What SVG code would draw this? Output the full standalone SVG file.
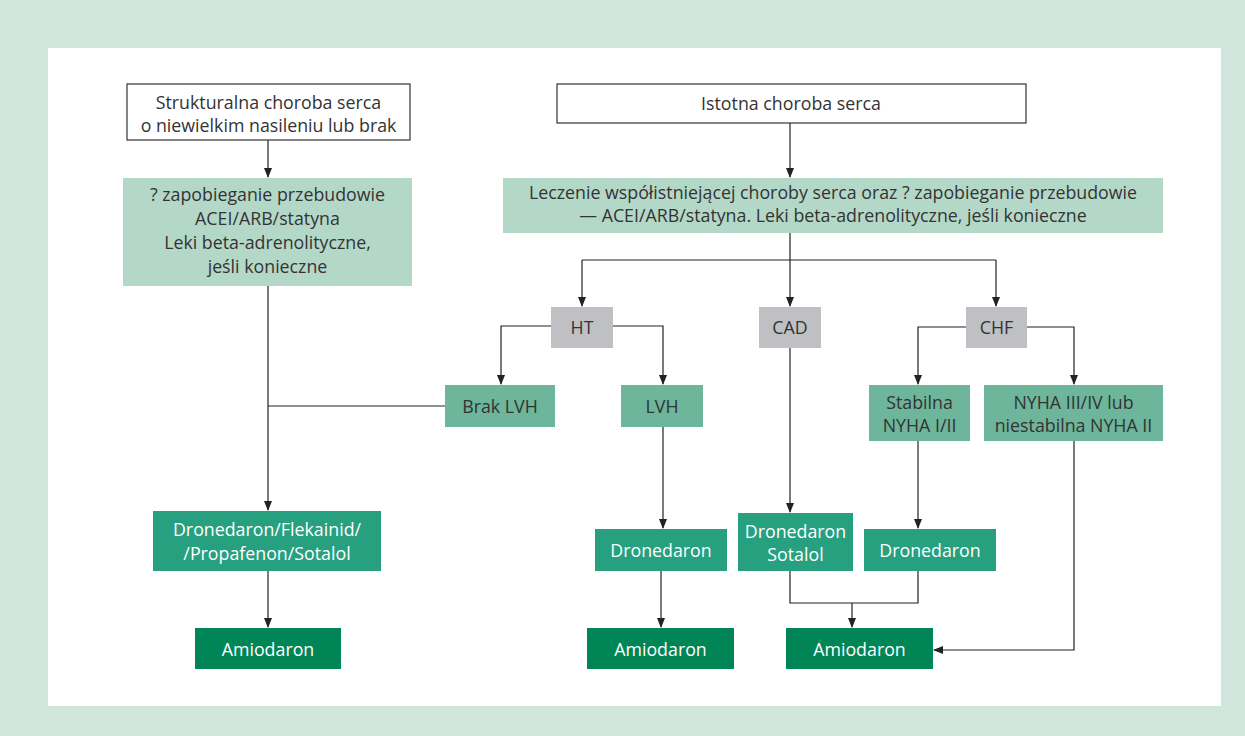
<svg xmlns="http://www.w3.org/2000/svg" width="1245" height="736" viewBox="0 0 1245 736">
<defs>
<marker id="ah" markerWidth="10" markerHeight="10" refX="9" refY="5" orient="auto" markerUnits="userSpaceOnUse">
<path d="M0,1 L10,5 L0,9 Z" fill="#222"/>
</marker>
<style>
text{font-family:"Open Sans","Noto Sans","Liberation Sans",sans-serif;font-size:17.8px;text-anchor:middle;fill:#333}
.w text{fill:#fff}
.wt{fill:#fff;stroke:#333;stroke-width:1.2}
.lg{fill:#b4d8c8}
.gr{fill:#bfc0c4}
.mg{fill:#6db59b}
.tl{fill:#26a07f}
.dk{fill:#008556}
.c path{fill:none;stroke:#222;stroke-width:1.2}
.c path.a{marker-end:url(#ah)}
</style>
</defs>
<rect x="0" y="0" width="1245" height="736" fill="#d0e6dc"/>
<rect x="48" y="48" width="1173" height="658" fill="#fff"/>

<g class="c">
<path class="a" d="M268,140 V177"/>
<path class="a" d="M790,123 V177"/>
<path d="M790,233 V260 M582,260 H996"/>
<path class="a" d="M582,260 V306"/>
<path class="a" d="M790,260 V306"/>
<path class="a" d="M996,260 V306"/>
<path class="a" d="M551,326 H501 V384"/>
<path class="a" d="M613,326 H663 V384"/>
<path class="a" d="M966,327 H918 V384"/>
<path class="a" d="M1027,327 H1074 V384"/>
<path class="a" d="M268,286 V510"/>
<path d="M445,406 H268"/>
<path class="a" d="M663,427 V528"/>
<path class="a" d="M790,348 V512"/>
<path class="a" d="M918,441 V528"/>
<path class="a" d="M268,571 V627"/>
<path class="a" d="M661,571 V627"/>
<path d="M790,571 V603 H918 V571"/>
<path class="a" d="M852,603 V627"/>
<path class="a" d="M1074,441 V650 H934"/>
</g>

<g id="n-strukturalna"><rect class="wt" x="127" y="84" width="283" height="56"/><text x="268.5" y="109">Strukturalna choroba serca</text><text x="268.5" y="132">o niewielkim nasileniu lub brak</text></g>
<g id="n-istotna"><rect class="wt" x="557" y="84" width="469" height="39"/><text x="791" y="110">Istotna choroba serca</text></g>
<g id="n-zapobieganie-l"><rect class="lg" x="123" y="178" width="289" height="108"/><text x="267.5" y="201">? zapobieganie przebudowie</text><text x="267.5" y="225">ACEI/ARB/statyna</text><text x="267.5" y="249">Leki beta-adrenolityczne,</text><text x="267.5" y="273">jeśli konieczne</text></g>
<g id="n-leczenie"><rect class="lg" x="503" y="178" width="660" height="55"/><text x="833" y="199">Leczenie współistniejącej choroby serca oraz ? zapobieganie przebudowie</text><text x="833" y="222">— ACEI/ARB/statyna. Leki beta-adrenolityczne, jeśli konieczne</text></g>
<g id="n-ht"><rect class="gr" x="551" y="307" width="62" height="41"/><text x="582" y="334">HT</text></g>
<g id="n-cad"><rect class="gr" x="759" y="307" width="62" height="41"/><text x="790" y="334">CAD</text></g>
<g id="n-chf"><rect class="gr" x="966" y="307" width="61" height="41"/><text x="996.5" y="334">CHF</text></g>
<g id="n-braklvh"><rect class="mg" x="445" y="385" width="110" height="42"/><text x="500" y="413">Brak LVH</text></g>
<g id="n-lvh"><rect class="mg" x="621" y="385" width="82" height="42"/><text x="662" y="413">LVH</text></g>
<g id="n-stabilna"><rect class="mg" x="869" y="385" width="101" height="56"/><text x="919.5" y="409">Stabilna</text><text x="919.5" y="432">NYHA I/II</text></g>
<g id="n-nyha"><rect class="mg" x="984" y="385" width="179" height="56"/><text x="1073.5" y="409">NYHA III/IV lub</text><text x="1073.5" y="432">niestabilna NYHA II</text></g>
<g class="w">
<g id="n-dron-flek"><rect class="tl" x="153" y="511" width="228" height="60"/><text x="267" y="536">Dronedaron/Flekainid/</text><text x="267" y="560">/Propafenon/Sotalol</text></g>
<g id="n-dron-mid"><rect class="tl" x="595" y="529" width="132" height="42"/><text x="661" y="557">Dronedaron</text></g>
<g id="n-dron-sot"><rect class="tl" x="738" y="513" width="115" height="58"/><text x="795.5" y="538">Dronedaron</text><text x="795.5" y="561">Sotalol</text></g>
<g id="n-dron-right"><rect class="tl" x="864" y="529" width="132" height="42"/><text x="930" y="557">Dronedaron</text></g>
<g id="n-amio-l"><rect class="dk" x="195" y="628" width="146" height="41"/><text x="268" y="656">Amiodaron</text></g>
<g id="n-amio-m"><rect class="dk" x="587" y="628" width="147" height="41"/><text x="660.5" y="656">Amiodaron</text></g>
<g id="n-amio-r"><rect class="dk" x="786" y="628" width="147" height="41"/><text x="859.5" y="656">Amiodaron</text></g>
</g>
</svg>
